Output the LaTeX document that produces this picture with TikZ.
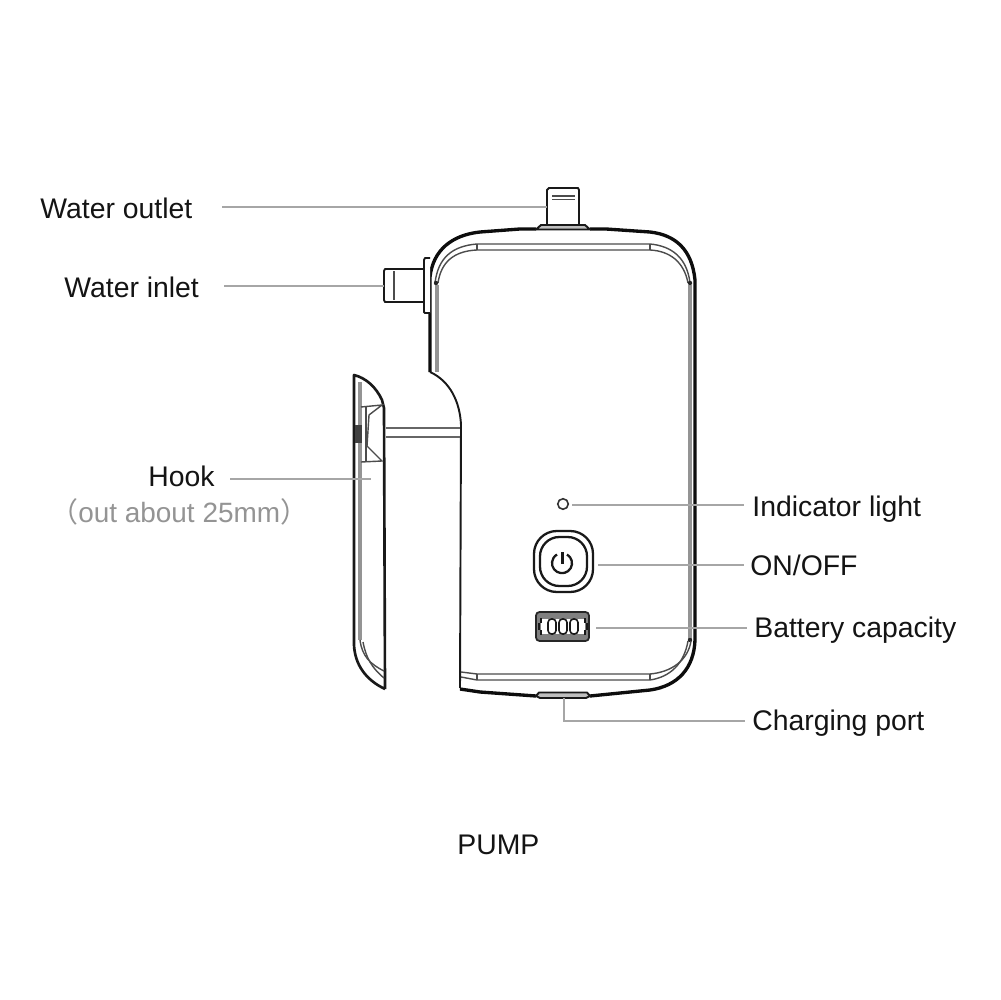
\documentclass[tikz,border=0pt]{standalone}
\usepackage{fontspec}
\setmainfont{Liberation Sans}
\newfontfamily\cjkparen{Noto Sans CJK SC}
\tikzset{
  x=0.02cm,y=-0.02cm,
  lab/.style={font=\fontsize{16.15}{20}\selectfont,text=black!92,inner sep=0pt,anchor=base west},
  greylab/.style={lab,font=\fontsize{15.9}{20}\selectfont,text=black!42},
  lead/.style={draw=black!35,line width=1.4pt},
  ol/.style={draw=black!90,line width=1.1pt,line join=round},
  olthick/.style={draw=black!95,line width=1.9pt,line join=round},
  thin/.style={draw=black!70,line width=0.8pt},
  armline/.style={draw=black!60,line width=1.2pt},
  greyband/.style={draw=black!42,line width=2.4pt},
  dotn/.style={circle,fill=black!85,inner sep=0pt,minimum size=2.5pt},
}
\begin{document}
\begin{tikzpicture}
\useasboundingbox (0,0) rectangle (1000,1000);
\fill[white] (0,0) rectangle (1000,1000);
% body
\draw[ol] (461,425) -- (460,688);
\draw[olthick] (430,372) -- (430,277)
  .. controls (433,250) and (452,235) .. (480,232)
  -- (520,229) -- (536,229) (590,229) -- (606,229) -- (650,232)
  .. controls (676,235) and (692,250) .. (695,280)
  -- (695,640)
  .. controls (694,668) and (678,686) .. (650,690)
  -- (590,696) (536,696) -- (480,692) -- (460,689);
\draw[ol] (430,372) .. controls (450,381) and (460,402) .. (461,425);
% inner top band
\draw[thin] (435,283) .. controls (438,258) and (452,246) .. (477,244) -- (650,244) .. controls (672,246) and (687,258) .. (690,283);
\draw[thin] (438,283) .. controls (441,262) and (454,251) .. (477,250) -- (650,250) .. controls (670,251) and (684,262) .. (688,283);
\draw[thin] (477,244) -- (477,250) (650,244) -- (650,250);
\draw[greyband] (437,285) -- (437,372);
\draw[greyband] (690,285) -- (690,640);
\node[dotn] (dl) at (436,283) {};
\node[dotn] (dr) at (690,283) {};
\node[dotn] (dbr) at (690,640) {};
% inner bottom band
\draw[thin] (461,672) -- (477,674) -- (650,674) .. controls (672,672) and (688,660) .. (691,641);
\draw[thin] (461,677) -- (477,680) -- (650,680) .. controls (670,677) and (684,664) .. (688,641);
\draw[thin] (477,674) -- (477,680) (650,674) -- (650,680);
% outlet
\draw[ol,fill=white] (547,225) -- (547,190) -- (549,188) -- (578,188) -- (579,190) -- (579,225);
\draw[thin] (552,196) -- (575,196) (552,199.5) -- (575,199.5);
\draw[ol,fill=black!25] (536,229.5) -- (541,225) -- (585,225) -- (590,229.5) -- cycle;
% inlet
\draw[ol,fill=white] (425,269) -- (385,269) -- (384,271) -- (384,300) -- (385,302) -- (425,302);
\draw[thin] (394,271) -- (394,300);
\draw[ol,fill=white] (430,258) -- (425,258) -- (424,260) -- (424,312) -- (425,313) -- (430,313);
% charging port
\draw[ol,fill=black!25] (536,696) -- (540,698) -- (586,698) -- (590,696) -- (587,692.5) -- (539,692.5) -- cycle;
% arm
\draw[armline] (386,428) -- (460,428);
\draw[armline] (386,437) -- (460,437);
% hook
\draw[ol,line width=1.5pt,fill=white] (385,689) -- (384,408) -- (382,400) .. controls (376,387) and (366,378) .. (354,375) -- (354,645) .. controls (355,665) and (366,680) .. (385,689);
\draw[greyband] (360,382) -- (360,640);
\draw[thin] (360,640) .. controls (362,656) and (370,664) .. (384,671);
\draw[thin] (363,642) .. controls (366,658) and (372,668) .. (384,678);
\draw[thin] (361,407) -- (382,405) -- (369,415) -- (367,446) -- (382,461) -- (361,462);
\draw[thin] (366,407) -- (366,461);
\fill[black!75] (355,425) rectangle (362,443);
% indicator
\node[circle,draw=black!80,line width=0.9pt,fill=white,inner sep=0pt,minimum size=6pt] (led) at (563,504) {};
% button
\draw[ol,line width=1.3pt,rounded corners=13pt] (534,531) rectangle (593,592);
\draw[ol,line width=1.3pt,rounded corners=11pt] (540,537) rectangle (587,586);
\draw[ol,line width=1.3pt] (567,554.5) arc[start angle=-60,end angle=240,radius=10];
\draw[ol,line width=1.3pt] (562.5,552) -- (562.5,564);
% battery
\draw[draw=black!85,fill=black!50,line width=1pt,rounded corners=2pt] (536,612) rectangle (589,641);
\fill[white] (541,619) rectangle (585,634);
\foreach \xx in {552,563,574} \draw[draw=black!90,line width=0.9pt,rounded corners=2pt] (\xx-4,619) rectangle (\xx+4,634);
\draw[draw=black!90,line width=0.9pt] (541,618) -- (541,623) (539,623) -- (539,630) (541,630) -- (541,635) (585,618) -- (585,623) (587,623) -- (587,630) (585,630) -- (585,635);
% labels
\node[lab] (outlet) at (40,218) {Water outlet};
\node[lab] (inlet) at (64,297) {Water inlet};
\node[lab] (hook) at (148,486) {Hook};
\node[greylab] (hooknote) at (50,522) {{\cjkparen （}out about 25mm{\cjkparen ）}};
\node[lab] (ind) at (752,516) {Indicator light};
\node[lab] (onoff) at (750,575) {ON/OFF};
\node[lab] (cap) at (754,637) {Battery capacity};
\node[lab] (chg) at (752,730) {Charging port};
\node[lab] (pump) at (457,854) {PUMP};
% leaders
\coordinate (a1) at (222,207); \coordinate (a2) at (547,207);
\draw[lead] (a1) -- (a2);
\coordinate (b1) at (224,286); \coordinate (b2) at (384,286);
\draw[lead] (b1) -- (b2);
\coordinate (c1) at (230,479); \coordinate (c2) at (371,479);
\draw[lead] (c1) -- (c2);
\coordinate (d1) at (572,505); \coordinate (d2) at (744,505);
\draw[lead] (d1) -- (d2);
\coordinate (e1) at (598,565); \coordinate (e2) at (744,565);
\draw[lead] (e1) -- (e2);
\coordinate (f1) at (596,628); \coordinate (f2) at (747,628);
\draw[lead] (f1) -- (f2);
\coordinate (g1) at (564,698); \coordinate (g2) at (564,721); \coordinate (g3) at (745,721);
\draw[lead] (g1) -- (g2) -- (g3);
\end{tikzpicture}
\end{document}
